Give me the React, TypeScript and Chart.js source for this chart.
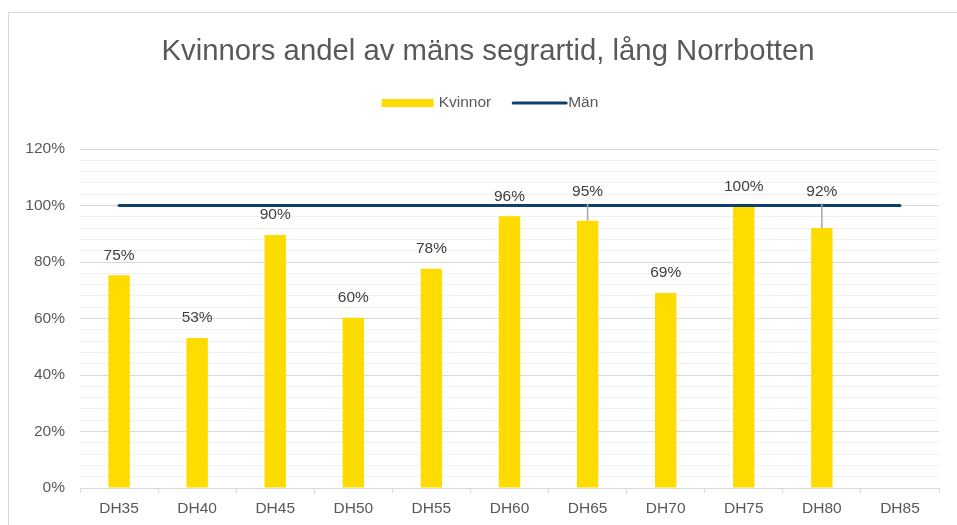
import React, { useEffect, useRef } from "react";
import { Chart, registerables } from "chart.js";

Chart.register(...registerables);

const TITLE = "Kvinnors andel av mäns segrartid, lång Norrbotten";
const categories = ["DH35", "DH40", "DH45", "DH50", "DH55", "DH60", "DH65", "DH70", "DH75", "DH80", "DH85"];
const kvinnor: (number | null)[] = [75.3, 53.1, 89.6, 60.3, 77.6, 96.2, 94.6, 69.0, 99.6, 92.0, null];
const man: number[] = [100, 100, 100, 100, 100, 100, 100, 100, 100, 100, 100];
const seriesNames = ["Kvinnor", "Män"];
const yMin = 0;
const yMax = 120;
const yStep = 4;
const yLabelStep = 20;

const FONT = '"Liberation Sans", Arial, sans-serif';
const BAR_COLOR = "#FFDC00";
const LINE_COLOR = "#0F4170";

const titleLegendPlugin = {
  id: "titleLegend",
  afterDraw(chart: any) {
    const ctx = chart.ctx;
    ctx.save();
    // Title
    ctx.font = `29.3px ${FONT}`;
    ctx.fillStyle = "#595959";
    ctx.textAlign = "center";
    ctx.textBaseline = "alphabetic";
    ctx.fillText(TITLE, 479, 47);
    // Legend
    ctx.font = `15.5px ${FONT}`;
    ctx.textBaseline = "middle";
    ctx.textAlign = "left";
    const w1 = ctx.measureText(seriesNames[0]).width;
    const w2 = ctx.measureText(seriesNames[1]).width;
    const total = 52 + 5 + w1 + 22 + 53 + 2 + w2;
    let x = 481 - total / 2;
    const cy = 90;
    ctx.fillStyle = BAR_COLOR;
    ctx.fillRect(x, cy - 4, 52, 8);
    x += 57;
    ctx.fillStyle = "#595959";
    ctx.fillText(seriesNames[0], x, cy);
    x += w1 + 22;
    ctx.strokeStyle = LINE_COLOR;
    ctx.lineWidth = 3;
    ctx.lineCap = "round";
    ctx.beginPath();
    ctx.moveTo(x, cy);
    ctx.lineTo(x + 53, cy);
    ctx.stroke();
    x += 55;
    ctx.fillText(seriesNames[1], x, cy);
    ctx.restore();
  },
};

const dataLabelPlugin = {
  id: "dataLabels",
  afterDatasetsDraw(chart: any) {
    const ctx = chart.ctx;
    const yScale = chart.scales.y;
    const lineY = yScale.getPixelForValue(man[0]);
    const meta = chart.getDatasetMeta(1);
    ctx.save();
    ctx.font = `15.5px ${FONT}`;
    ctx.fillStyle = "#404040";
    ctx.textAlign = "center";
    ctx.textBaseline = "middle";
    meta.data.forEach((el: any, i: number) => {
      const v = kvinnor[i];
      if (v === null || v === undefined) return;
      const top = el.y;
      let ly = top - 20;
      if (Math.abs(ly - lineY) < 8) {
        ly = lineY - 14;
        ctx.strokeStyle = "#A6A6A6";
        ctx.lineWidth = 1.5;
        ctx.beginPath();
        ctx.moveTo(el.x, lineY - 2);
        ctx.lineTo(el.x, top);
        ctx.stroke();
      }
      ctx.fillText(Math.round(v) + "%", el.x, ly);
    });
    ctx.restore();
  },
};

export default function App() {
  const ref = useRef<HTMLCanvasElement>(null);
  useEffect(() => {
    if (!ref.current) return;
    const chart = new Chart(ref.current, {
      type: "bar",
      data: {
        labels: categories,
        datasets: [
          {
            type: "line",
            label: seriesNames[1],
            data: man,
            borderColor: LINE_COLOR,
            backgroundColor: LINE_COLOR,
            borderWidth: 3,
            borderCapStyle: "round",
            pointRadius: 0,
            order: 0,
          } as any,
          {
            type: "bar",
            label: seriesNames[0],
            data: kvinnor,
            backgroundColor: BAR_COLOR,
            categoryPercentage: 1,
            barPercentage: 0.274,
            order: 1,
          },
        ],
      },
      options: {
        responsive: false,
        animation: false,
        layout: { padding: { top: 136, left: 0, right: 18, bottom: 0 } },
        plugins: {
          legend: { display: false },
          title: { display: false },
          tooltip: { enabled: false },
        },
        scales: {
          x: {
            offset: true,
            grid: {
              display: true,
              offset: true,
              drawOnChartArea: false,
              drawTicks: true,
              tickLength: 5,
              color: "#D9D9D9",
            },
            border: { display: true, color: "#D9D9D9", width: 1 },
            ticks: {
              color: "#595959",
              font: { family: FONT, size: 15.5 },
              padding: 6,
              maxRotation: 0,
              autoSkip: false,
            },
            afterFit(scale: any) {
              scale.height = 37;
            },
          },
          y: {
            min: yMin,
            max: yMax,
            grid: {
              drawTicks: false,
              color: (c: any) => (c.tick && c.tick.value % yLabelStep === 0 ? "#D9D9D9" : "#F0F0F0"),
              lineWidth: 1,
            },
            border: { display: false },
            ticks: {
              stepSize: yStep,
              autoSkip: false,
              padding: 15,
              color: "#595959",
              font: { family: FONT, size: 15.5 },
              callback: (v: any) => (Number(v) % yLabelStep === 0 ? v + "%" : ""),
            },
            afterFit(scale: any) {
              scale.width = 71;
            },
          },
        },
      },
      plugins: [titleLegendPlugin, dataLabelPlugin],
    });
    return () => chart.destroy();
  }, []);

  return (
    <div
      style={{
        position: "fixed",
        left: 8,
        top: 12,
        width: 948,
        height: 512,
        borderTop: "1px solid #D9D9D9",
        borderLeft: "1px solid #D9D9D9",
        background: "#fff",
      }}
    >
      <canvas ref={ref} width={948} height={512} style={{ display: "block" }} />
    </div>
  );
}
